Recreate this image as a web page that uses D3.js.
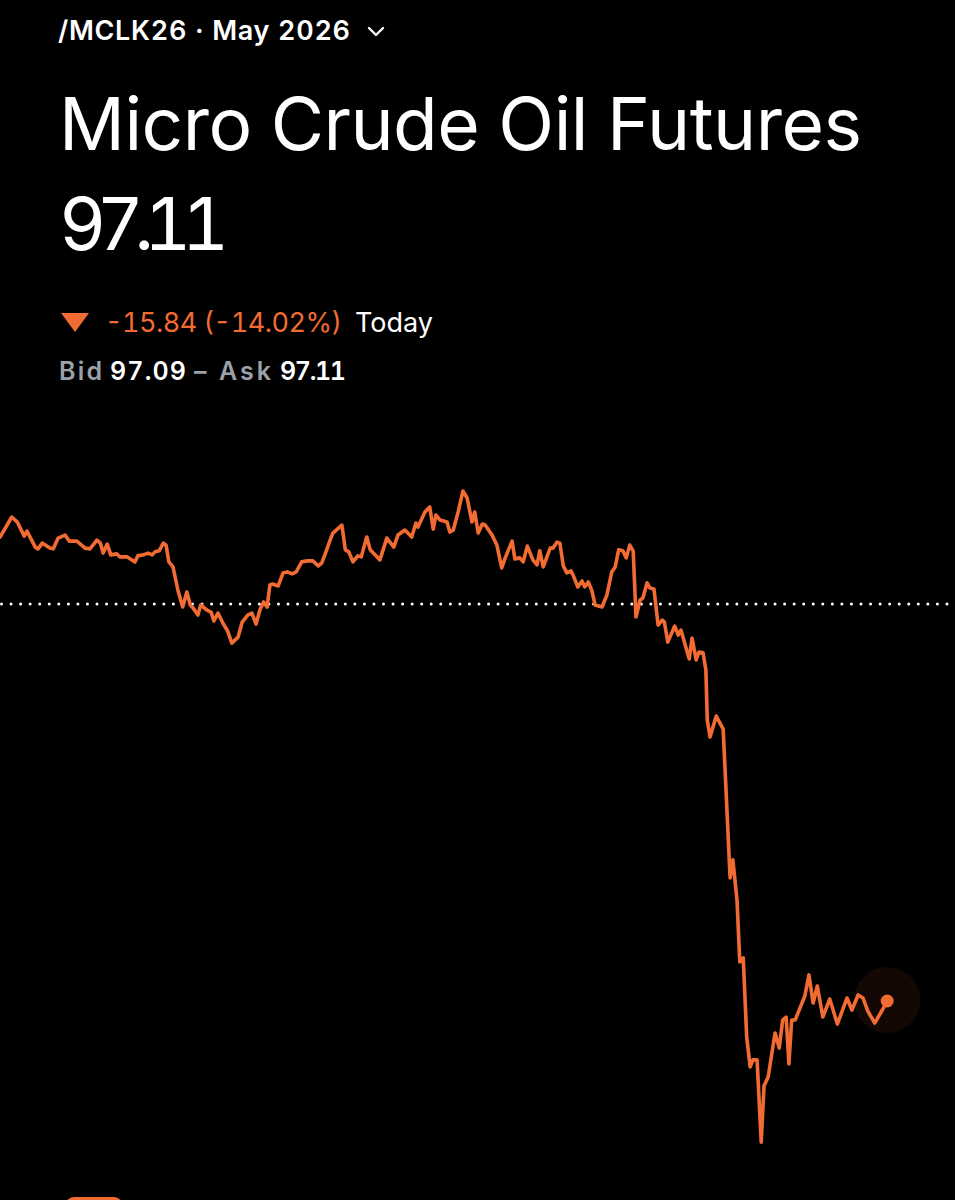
<!DOCTYPE html>
<html>
<head>
<meta charset="utf-8">
<script src="https://cdn.jsdelivr.net/npm/d3@7"></script>
<style>
html,body{margin:0;padding:0;background:#000;}
svg{display:block;}
text{font-variant-numeric:tabular-nums;}
</style>
</head>
<body>
<script>
// ---- data ----
const symbolLabel = "/MCLK26 · May 2026";
const titleText = "Micro Crude Oil Futures";
const lastPrice = 97.11;
const prevClose = 112.95;
const change = -15.84;
const changePct = -14.02;
const bid = 97.09;
const ask = 97.11;

// minutes since session start
const times = [0,17,25,35,39,51,55,61,72,77,84,94,100,111,123,130,140,145,149,155,160,169,173,184,195,199,207,214,220,224,230,236,240,244,250,257,264,270,275,279,286,290,299,305,309,315,322,329,335,344,350,358,364,370,376,381,386,390,394,402,409,415,422,428,436,444,452,460,465,471,477,481,494,499,504,510,517,522,530,535,549,559,569,575,585,595,601,604,614,621,626,630,636,646,650,655,662,669,675,682,686,691,697,701,711,718,725,730,740,744,751,756,762,770,776,780,785,795,799,805,809,814,819,825,828,835,841,845,850,855,860,870,877,884,889,894,900,905,910,915,919,925,929,935,939,945,951,957,960,965,975,980,984,991,996,1000,1006,1010,1016,1020,1022,1026,1035,1045,1055,1059,1065,1069,1074,1079,1084,1088,1094,1100,1104,1110,1120,1126,1131,1136,1140,1144,1149,1163,1169,1175,1181,1189,1199,1210,1224,1231,1240,1247,1254,1264,1275,1282];
const prices = [115.62,116.42,116.22,115.66,115.86,115.22,115.15,115.38,115.18,115.15,115.58,115.70,115.46,115.46,115.18,115.15,115.50,115.38,114.98,115.34,114.91,114.95,114.83,114.83,114.63,114.87,114.91,114.98,114.91,115.03,115.07,115.38,115.30,114.63,114.43,113.51,112.83,113.43,112.91,112.79,112.51,112.91,112.71,112.63,112.27,112.59,112.19,111.87,111.39,111.63,112.23,112.51,112.59,112.15,112.75,113.03,112.83,113.71,113.75,113.67,114.19,114.23,114.15,114.23,114.63,114.67,114.67,114.47,114.59,115.03,115.50,115.78,116.10,115.11,115.03,114.63,114.87,114.83,115.62,115.11,114.71,115.58,115.22,115.70,115.90,115.62,116.18,116.02,116.62,116.82,115.94,116.50,116.30,116.22,115.82,115.90,116.62,117.46,117.18,116.22,116.62,115.78,116.14,116.10,115.70,115.30,114.39,114.79,115.46,114.75,114.79,114.63,115.26,114.71,114.51,115.07,114.43,115.18,115.18,115.42,115.38,114.47,114.19,114.27,114.11,113.63,113.87,113.63,113.83,113.51,112.91,112.83,113.31,114.23,114.43,115.11,115.07,114.79,115.30,115.07,112.43,113.11,113.19,113.79,113.59,113.55,112.11,112.31,112.23,111.43,112.07,111.71,111.91,111.23,110.76,111.59,110.72,111.03,111.00,110.32,108.32,107.64,108.48,107.96,102.02,102.74,101.14,98.67,98.83,95.67,94.48,94.76,94.76,91.48,93.72,94.08,95.83,95.23,96.35,96.47,94.60,96.35,96.35,97.31,98.15,97.03,97.71,96.47,97.19,96.19,97.23,96.75,97.35,97.23,96.71,96.23,96.75,97.11];

// ---- layout ----
const W = 955, H = 1200;
const ORANGE = "#f26b32";
const svg = d3.select("body").append("svg").attr("width", W).attr("height", H)
  .style("background", "#000");

const FONT = "Inter, 'Noto Sans', sans-serif";

function spread(sel, target) {
  sel.attr("textLength", target).attr("lengthAdjust", "spacing");
}

// header
const hdr = svg.append("text").attr("x", 58).attr("y", 40)
  .attr("font-family", FONT).attr("font-size", 27).attr("font-weight", 600)
  .attr("fill", "#fff").text(symbolLabel);
spread(hdr, 292);
svg.append("path")
  .attr("d", `M369,28 l7,7 l7,-7`)
  .attr("fill", "none").attr("stroke", "#fff").attr("stroke-width", 2.4)
  .attr("stroke-linecap", "round").attr("stroke-linejoin", "round");

const title = svg.append("text").attr("x", 59).attr("y", 150)
  .attr("font-family", FONT).attr("font-size", 73).attr("font-weight", 400)
  .attr("fill", "#fff").text(titleText);
spread(title, 803);

const priceT = svg.append("text").attr("x", 59).attr("y", 250)
  .attr("font-family", FONT).attr("font-size", 73).attr("font-weight", 400)
  .attr("fill", "#fff").text(lastPrice.toFixed(2));
spread(priceT, 170);

// change row
svg.append("path").attr("d", "M61,313 L89,313 L75,332 Z").attr("fill", ORANGE);
const chg = svg.append("text").attr("x", 105).attr("y", 332)
  .attr("font-family", FONT).attr("font-size", 27).attr("font-weight", 400)
  .attr("fill", ORANGE).text(`${change.toFixed(2)} (${changePct.toFixed(2)}%)`);
spread(chg, 237);
const today = svg.append("text").attr("x", 355).attr("y", 332)
  .attr("font-family", FONT).attr("font-size", 27).attr("font-weight", 400)
  .attr("fill", "#fff").text("Today");
spread(today, 78);

// bid/ask row
const rowY = 380;
const parts = [
  {t: "Bid", c: "#9ba1a8", x: 59, w: 43},
  {t: bid.toFixed(2), c: "#fff", x: 110, w: 76},
  {t: "–", c: "#9ba1a8", x: 194, w: 14},
  {t: "Ask", c: "#9ba1a8", x: 219, w: 52},
  {t: ask.toFixed(2), c: "#fff", x: 280, w: 66}
];
parts.forEach(p => {
  const t = svg.append("text").attr("x", p.x).attr("y", rowY)
    .attr("font-family", FONT).attr("font-size", 25).attr("font-weight", 600)
    .attr("fill", p.c).text(p.t);
  spread(t, p.w);
});

// scales
const x = d3.scaleLinear().domain([0, 1380]).range([0, W]);
const y = d3.scaleLinear().domain([lastPrice, prevClose]).range([1001, 604]);

// previous close dotted line
svg.append("line")
  .attr("x1", 1.5).attr("x2", W).attr("y1", y(prevClose)).attr("y2", y(prevClose))
  .attr("stroke", "#fff").attr("stroke-width", 3)
  .attr("stroke-linecap", "round").attr("stroke-dasharray", "0 9.55");

const data = times.map((t, i) => ({t, p: prices[i]}));

// halo
const last = data[data.length - 1];
svg.append("circle").attr("cx", x(last.t)).attr("cy", y(last.p) - 1).attr("r", 33)
  .attr("fill", ORANGE).attr("opacity", 0.08);

const line = d3.line().x(d => x(d.t)).y(d => y(d.p));
svg.append("path").datum(data).attr("d", line)
  .attr("fill", "none").attr("stroke", ORANGE).attr("stroke-width", 3.6)
  .attr("stroke-linejoin", "round").attr("stroke-linecap", "round");

svg.append("circle").attr("cx", x(last.t)).attr("cy", y(last.p)).attr("r", 6.5)
  .attr("fill", ORANGE);

// partially visible button at bottom
svg.append("rect").attr("x", 65).attr("y", 1197).attr("width", 58).attr("height", 24)
  .attr("rx", 9).attr("fill", ORANGE);
</script>
</body>
</html>
